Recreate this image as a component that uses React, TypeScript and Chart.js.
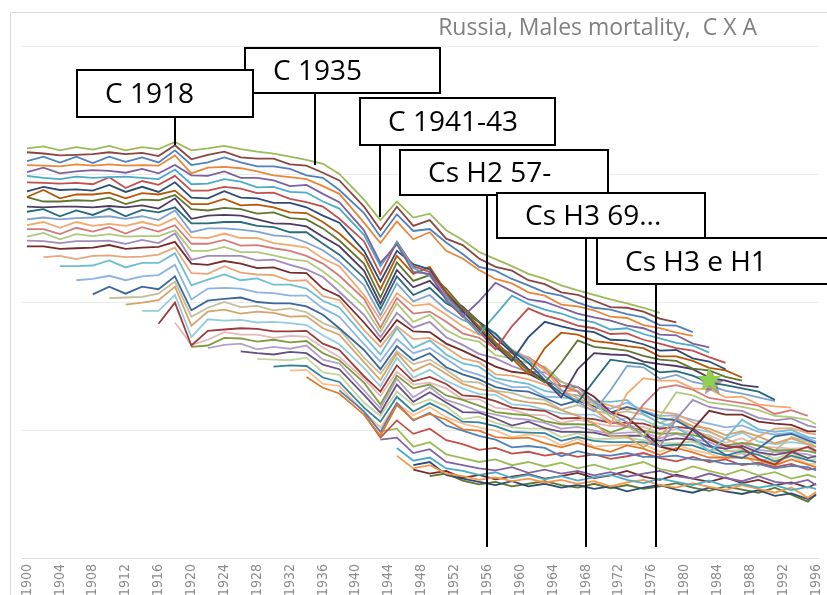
import React, { useEffect, useRef } from 'react';
import { Chart, registerables } from 'chart.js';

Chart.register(...registerables);

// Cohort years (x) on which the series are sampled
const YEARS = [1900,1902,1904,1906,1908,1910,1912,1914,1916,1918,1920,1922,1924,1926,1928,1930,1932,1934,1936,1938,1941,1943,1945,1947,1949,1951,1953,1955,1957,1959,1961,1963,1965,1967,1969,1971,1973,1975,1977,1979,1981,1983,1985,1987,1989,1991,1993,1995,1996];
const TICK_YEARS = [1900,1904,1908,1912,1916,1920,1924,1928,1932,1936,1940,1944,1948,1952,1956,1960,1964,1968,1972,1976,1980,1984,1988,1992,1996];

// log mortality x100 (upper age lines)
const T00 = [-160,-157,-163,-158,-162,-156,-163,-158,-161,-150,-163,-160,-156,-161,-165,-168,-173,-178,-184,-200,-240,-272,-243,-268,-262,-288,-303,-322,-333,-344,-356,-364,-374,-382,-389,-396,-402,-409,-417];
const T01 = [-166,-168,-171,-170,-169,-166,-169,-167,-172,-155,-177,-170,-165,-174,-176,-176,-185,-187,-198,-210,-251,-287,-251,-281,-272,-301,-311,-332,-345,-351,-366,-372,-385,-389,-398,-408,-409,-415,-426,-432];
const T02 = [-180,-173,-182,-173,-183,-173,-181,-174,-182,-163,-186,-182,-174,-182,-188,-188,-192,-202,-206,-225,-261,-298,-263,-289,-286,-307,-325,-345,-351,-364,-374,-385,-390,-401,-409,-412,-419,-424,-436,-437,-447];
const T03 = [-186,-187,-188,-185,-187,-185,-187,-186,-187,-171,-199,-190,-189,-191,-196,-202,-205,-208,-219,-231,-276,-308,-274,-302,-291,-320,-332,-350,-364,-371,-385,-390,-404,-407,-413,-423,-425,-436,-441,-448,-453];
const T04 = [-197,-190,-199,-196,-194,-195,-198,-192,-199,-186,-202,-203,-196,-206,-206,-210,-219,-217,-231,-244,-288,-339,-310,-353,-356,-397,-423,-399,-370,-383,-396,-400,-409,-418,-424,-429,-437,-441,-451,-452,-465,-471];
const T05 = [-203,-206,-208,-204,-206,-205,-204,-206,-208,-193,-216,-215,-208,-212,-221,-220,-228,-229,-243,-254,-295,-344,-307,-347,-359,-392,-422,-450,-420,-390,-403,-412,-418,-427,-432,-443,-441,-450,-457,-464,-468,-479];
const T06 = [-213,-214,-215,-214,-216,-205,-222,-211,-217,-203,-226,-226,-220,-223,-230,-229,-239,-244,-251,-270,-305,-357,-306,-344,-353,-388,-420,-446,-474,-438,-410,-421,-428,-437,-441,-450,-449,-459,-465,-472,-476,-486,-495];
const T07 = [-227,-220,-225,-224,-226,-217,-228,-220,-228,-213,-237,-238,-227,-237,-238,-245,-245,-252,-265,-276,-320,-368,-320,-341,-349,-387,-414,-442,-469,-492,-455,-431,-438,-444,-447,-459,-460,-466,-476,-475,-488,-493,-505];
const T08 = [-236,-225,-238,-232,-232,-229,-238,-230,-232,-226,-247,-247,-239,-249,-248,-252,-260,-261,-275,-293,-328,-380,-328,-356,-345,-384,-412,-438,-466,-488,-513,-472,-448,-451,-461,-464,-469,-472,-485,-485,-492,-503,-507,-518];
const T09 = [-236,-243,-243,-241,-242,-237,-247,-240,-241,-233,-255,-257,-253,-255,-262,-260,-269,-271,-285,-304,-340,-393,-338,-367,-358,-379,-409,-432,-463,-485,-508,-526,-495,-460,-470,-473,-476,-484,-490,-492,-504,-507,-517,-523];
const T10 = [-251,-252,-251,-251,-252,-250,-252,-249,-254,-238,-270,-265,-264,-265,-271,-277,-278,-282,-298,-313,-351,-403,-350,-377,-367,-394,-407,-431,-456,-479,-505,-523,-549,-505,-480,-482,-483,-493,-497,-500,-505,-518,-523,-530,-533];
const T11 = [-259,-255,-266,-257,-264,-254,-266,-256,-260,-252,-277,-277,-275,-275,-281,-283,-291,-291,-309,-326,-362,-411,-360,-389,-378,-402,-416,-431,-450,-476,-495,-522,-543,-557,-523,-490,-494,-497,-510,-508,-515,-526,-530,-535,-540,-553];
const T12 = [-271,-268,-271,-269,-268,-266,-270,-266,-272,-257,-291,-285,-285,-287,-290,-296,-298,-307,-319,-337,-374,-421,-371,-399,-389,-412,-428,-438,-449,-476,-490,-516,-538,-556,-571,-538,-500,-502,-520,-514,-525,-530,-539,-543,-549,-555];
const T13 = [-280,-275,-284,-275,-281,-278,-281,-275,-281,-269,-299,-300,-293,-300,-300,-308,-311,-315,-332,-344,-389,-428,-386,-406,-403,-420,-438,-451,-456,-474,-488,-507,-537,-550,-567,-591,-543,-519,-523,-523,-535,-536,-549,-548,-560,-563,-565];
const T14 = [-286,-286,-294,-284,-290,-283,-293,-283,-290,-280,-309,-309,-303,-312,-311,-316,-320,-328,-340,-359,-395,-440,-394,-418,-415,-431,-449,-456,-473,-480,-486,-504,-531,-540,-568,-587,-594,-560,-534,-530,-537,-550,-554,-558,-562,-575,-569,-578];
const T15 = [-298,-292,-302,-294,-297,-294,-298,-297,-297,-288,-320,-320,-314,-322,-322,-327,-333,-336,-352,-372,-407,-447,-402,-431,-420,-444,-457,-462,-483,-488,-496,-501,-524,-539,-560,-579,-594,-610,-579,-541,-546,-557,-560,-564,-569,-578,-580,-584,-591];
const T16 = [-304,-305,-308,-305,-305,-304,-309,-303,-308,-293,-334,-328,-328,-328,-335,-334,-342,-349,-361,-384,-420,-455,-417,-440,-431,-455,-467,-481,-488,-500,-509,-510,-525,-533,-556,-574,-588,-610,-626,-583,-553,-564,-568,-570,-581,-585,-582,-593,-596];
const T17 = [-313,-313,-317,-316,-315,-311,-317,-315,-314,-306,-340,-342,-336,-340,-347,-346,-354,-355,-379,-391,-432,-462,-428,-446,-447,-465,-476,-488,-501,-509,-512,-525,-531,-533,-548,-572,-580,-602,-626,-632,-599,-570,-576,-576,-587,-590,-592,-602,-602];

// lines that begin on the lower-left diagonal
const L0 = [-344,-344,-343,-335,-346,-339,-339,-324,-374,-365,-357,-366,-363,-373,-373,-379,-398,-409,-453,-482,-441,-472,-460,-482,-496,-501,-519,-524,-528,-539,-543,-546,-555,-556,-553,-575,-589,-596,-611,-634,-613,-584,-599,-603,-600,-611,-613];
const M0 = [-330,-328,-333,-328,-327,-330,-329,-326,-315,-355,-356,-344,-354,-357,-358,-367,-366,-391,-397,-444,-470,-438,-458,-456,-471,-488,-494,-513,-515,-521,-529,-539,-539,-555,-562,-568,-566,-572,-575,-588,-602,-614,-624,-610,-598,-597,-605,-607];
const M1 = [-366,-364,-359,-366,-360,-358,-342,-396,-379,-378,-379,-385,-386,-390,-390,-410,-423,-466,-493,-458,-480,-472,-489,-506,-514,-524,-533,-533,-548,-549,-552,-558,-567,-557,-570,-578,-577,-584,-590,-596,-593,-603,-607,-604,-613,-618];
const L1 = [-388,-376,-387,-376,-380,-360,-413,-398,-395,-393,-400,-402,-402,-407,-420,-441,-475,-505,-469,-491,-480,-502,-513,-521,-533,-538,-540,-550,-561,-554,-563,-573,-564,-571,-582,-585,-600,-623,-639,-644,-629,-610,-606,-616,-621];
const M2 = [-394,-393,-392,-387,-368,-423,-409,-400,-408,-406,-413,-410,-416,-433,-443,-487,-512,-477,-497,-490,-506,-524,-526,-539,-542,-550,-553,-568,-561,-570,-575,-571,-576,-589,-579,-600,-610,-632,-636,-656,-632,-611,-618,-626];
const L2 = [-404,-401,-397,-376,-437,-415,-412,-418,-415,-417,-423,-422,-441,-451,-494,-522,-480,-508,-496,-512,-528,-536,-540,-552,-557,-559,-569,-578,-590,-610,-610,-627,-610,-582,-594,-598,-608,-602,-610,-621,-613,-622,-627];
const M3 = [-414,-414,-389,-455,-427,-429,-428,-432,-431,-433,-436,-452,-466,-503,-532,-487,-518,-506,-523,-535,-544,-545,-560,-562,-568,-574,-576,-576,-589,-581,-584,-596,-586,-598,-603,-614,-604,-618,-622,-619,-622,-632];
const L3 = [-434,-401,-468,-445,-443,-441,-442,-446,-446,-445,-465,-475,-516,-540,-499,-524,-517,-528,-546,-548,-555,-565,-568,-570,-582,-581,-583,-589,-589,-590,-598,-595,-598,-615,-625,-628,-645,-654,-635,-626,-633];
const M4 = [-432,-467,-459,-447,-451,-451,-456,-453,-454,-471,-486,-520,-547,-509,-529,-526,-535,-552,-552,-565,-568,-576,-577,-589,-584,-589,-594,-594,-595,-605,-598,-605,-608,-620,-613,-626,-627,-629,-628,-636];
const L4 = [-470,-468,-456,-457,-462,-459,-463,-461,-480,-491,-526,-560,-515,-535,-529,-546,-553,-562,-572,-575,-577,-586,-591,-591,-592,-604,-595,-601,-606,-605,-608,-613,-624,-620,-624,-632,-631,-633,-636];
const M5 = [-472,-467,-465,-474,-470,-473,-468,-490,-496,-538,-566,-520,-549,-533,-553,-561,-571,-576,-582,-584,-589,-598,-595,-601,-606,-604,-603,-613,-606,-614,-619,-630,-621,-631,-634,-635,-638,-642];
const L5 = [-477,-480,-482,-478,-480,-498,-505,-545,-573,-529,-556,-541,-557,-572,-573,-582,-593,-587,-597,-603,-603,-604,-610,-609,-609,-617,-613,-615,-626,-629,-625,-635,-639,-634,-644,-641];
const M6 = [-489,-490,-491,-487,-510,-514,-557,-578,-540,-561,-552,-563,-583,-579,-589,-596,-598,-598,-611,-605,-614,-614,-612,-616,-620,-621,-618,-631,-633,-631,-634,-645,-636,-648,-645];
const L6 = [-501,-499,-500,-518,-525,-565,-587,-548,-571,-558,-571,-587,-588,-594,-603,-604,-605,-617,-611,-617,-619,-619,-619,-625,-623,-624,-633,-640,-633,-639,-649,-640,-647,-650];
const M7 = [-507,-506,-528,-531,-572,-596,-558,-577,-564,-580,-590,-596,-601,-611,-607,-611,-624,-614,-626,-624,-623,-622,-634,-623,-631,-637,-645,-636,-645,-651,-641,-653,-653];
const L7 = [-517,-534,-543,-576,-609,-561,-584,-575,-584,-599,-601,-611,-613,-612,-621,-627,-620,-628,-634,-624,-629,-639,-628,-635,-643,-643,-643,-647,-655,-646,-654,-658];
const L8 = [-538,-571,-603,-558,-585,-573,-593,-601,-609,-615,-627,-625,-628,-641,-633,-639,-640,-636,-642,-642,-640,-646,-647,-653,-653,-653,-660,-656,-658,-663];

// young-age lines starting around the war years
const B0 = [-575,-612,-585,-606,-598,-616,-622,-631,-628,-637,-634,-640,-636,-642,-638,-645,-641,-636,-644,-649,-642,-650,-646,-655,-651,-658,-653,-662,-660];
const B1 = [-602,-598,-626,-619,-638,-644,-650,-646,-655,-650,-657,-651,-660,-654,-662,-656,-650,-661,-666,-657,-664,-670,-662,-671,-666,-676,-670,-674];
const B2 = [-615,-612,-636,-630,-650,-655,-660,-663,-658,-667,-662,-668,-664,-671,-666,-673,-668,-664,-672,-676,-668,-675,-680,-672,-681,-684,-678,-686];
const B3 = [-628,-648,-643,-660,-664,-670,-666,-675,-670,-677,-672,-679,-674,-670,-678,-683,-676,-681,-686,-679,-688,-684,-690,-686,-694,-689,-692];
const B4 = [-640,-660,-655,-668,-672,-678,-674,-680,-676,-682,-678,-684,-680,-688,-682,-678,-686,-690,-683,-689,-694,-686,-692,-698,-690,-706,-697];
const B5 = [-655,-650,-670,-676,-681,-686,-680,-688,-684,-690,-686,-692,-688,-696,-690,-686,-693,-698,-690,-696,-700,-694,-703,-699,-708,-702];
const B6 = [-662,-668,-664,-675,-670,-677,-673,-669,-676,-672,-667,-675,-671,-664,-673,-678,-670,-676,-681,-674,-683,-678,-686,-682,-690,-684];
const B7 = [-672,-668,-679,-685,-681,-688,-684,-680,-686,-690,-684,-691,-686,-692,-688,-683,-690,-695,-688,-693,-698,-690,-701,-712,-700];

const SERIES = [T00,T01,T02,T03,T04,T05,T06,T07,T08,T09,T10,T11,T12,T13,T14,T15,T16,T17,L0,L1,L2,L3,L4,L5,L6,L7,L8,B0,B1,B2,B3,B4,B5,B6,B7,M0,M1,M2,M3,M4,M5,M6,M7];
const START_YEARS = [1900,1900,1900,1900,1900,1900,1900,1900,1900,1900,1900,1900,1900,1900,1900,1900,1900,1900,1904,1908,1912,1916,1920,1926,1930,1934,1938,1941,1943,1943,1945,1945,1947,1947,1949,1902,1906,1910,1914,1918,1922,1928,1932];

const COLORS = ['#9BBB59','#8B4543','#4F81BD','#E8883A','#7D60A0','#4BACC6','#C0504D','#2C4D75','#B65708','#5F7530','#4D3B62','#276A7C','#7FA3D0','#F4A86E','#D27C7A','#AFC97A','#A08BBB','#772C2A','#6FBDD1','#3A679C','#D6A36A','#9E3B38','#7E9C40','#664F83','#31859C','#E07B2C','#4F81BD','#C0504D','#9BBB59','#8064A2','#4BACC6','#F79646','#2C4D75','#772C2A','#5F7530','#E6A77A','#8DB3E2','#C4BD97','#93CDDD','#E6B9B8','#B3A2C7','#C3D69B','#FAC090'];

const TITLE = 'Russia, Males mortality,  C X A';
const STAR = { year: 1983, value: -522 };
const NOTES = [
  { text: 'C 1935', year: 1935, x: 245, y: 48, w: 195, h: 45, end: 165 },
  { text: 'C 1918', year: 1918, x: 77, y: 70, w: 176, h: 47, end: 145 },
  { text: 'C 1941-43', year: 1943, x: 360, y: 98, w: 195, h: 47, end: 217 },
  { text: 'Cs H2 57-', year: 1956, x: 400, y: 150, w: 208, h: 45, end: 547 },
  { text: 'Cs H3 69...', year: 1968, x: 497, y: 193, w: 208, h: 45, end: 547 },
  { text: 'Cs H3 e H1', year: 1976.5, x: 597, y: 238, w: 240, h: 46, end: 547 },
];

function starPath(ctx: CanvasRenderingContext2D, cx: number, cy: number, ro: number, ri: number) {
  ctx.beginPath();
  for (let i = 0; i < 10; i++) {
    const r = i % 2 === 0 ? ro : ri;
    const a = -Math.PI / 2 + (i * Math.PI) / 5;
    const px = cx + r * Math.cos(a);
    const py = cy + r * Math.sin(a);
    if (i === 0) ctx.moveTo(px, py); else ctx.lineTo(px, py);
  }
  ctx.closePath();
}

const overlay = {
  id: 'overlay',
  afterDraw(chart: any) {
    const { ctx } = chart;
    const xs = chart.scales.x;
    const ys = chart.scales.y;
    ctx.save();
    ctx.strokeStyle = '#d9d9d9';
    ctx.lineWidth = 1;
    ctx.beginPath();
    ctx.moveTo(10.5, 595);
    ctx.lineTo(10.5, 12.5);
    ctx.lineTo(827, 12.5);
    ctx.stroke();
    ctx.fillStyle = '#808080';
    ctx.font = '23px "Open Sans", sans-serif';
    ctx.textAlign = 'right';
    ctx.textBaseline = 'middle';
    ctx.fillText(TITLE, 757, 28);
    const sx = xs.getPixelForValue(STAR.year);
    const sy = ys.getPixelForValue(STAR.value);
    ctx.fillStyle = 'rgba(90,90,90,0.55)';
    starPath(ctx, sx + 3, sy + 4, 13, 5.5);
    ctx.fill();
    ctx.fillStyle = '#8FD14F';
    starPath(ctx, sx, sy, 13, 5.5);
    ctx.fill();
    ctx.strokeStyle = '#000';
    ctx.lineWidth = 2;
    NOTES.forEach((n) => {
      const px = Math.round(xs.getPixelForValue(n.year));
      ctx.beginPath();
      ctx.moveTo(px, n.y + n.h);
      ctx.lineTo(px, n.end);
      ctx.stroke();
    });
    NOTES.forEach((n) => {
      ctx.fillStyle = '#fff';
      ctx.fillRect(n.x, n.y, n.w, n.h);
      ctx.strokeStyle = '#000';
      ctx.lineWidth = 2;
      ctx.strokeRect(n.x, n.y, n.w, n.h);
      ctx.fillStyle = '#000';
      ctx.font = '28px "Open Sans", sans-serif';
      ctx.textAlign = 'left';
      ctx.textBaseline = 'middle';
      ctx.fillText(n.text, n.x + 28, n.y + n.h / 2 + 2);
    });
    ctx.restore();
  },
};

export default function App() {
  const ref = useRef<HTMLCanvasElement | null>(null);
  useEffect(() => {
    if (!ref.current) return;
    const datasets = SERIES.map((vals, i) => {
      const s = YEARS.indexOf(START_YEARS[i]);
      return {
        data: vals.map((v, j) => ({ x: YEARS[s + j], y: v })),
        borderColor: COLORS[i % COLORS.length],
        borderWidth: 1.8,
        pointRadius: 0,
        fill: false,
        tension: 0,
      };
    });
    const chart = new Chart(ref.current, {
      type: 'line',
      data: { datasets },
      options: {
        animation: false,
        responsive: false,
        devicePixelRatio: 1,
        layout: { padding: { left: 22, right: 9, top: 46, bottom: 0 } },
        plugins: { legend: { display: false }, tooltip: { enabled: false }, title: { display: false } },
        scales: {
          x: {
            type: 'linear',
            min: 1899.39,
            max: 1996.24,
            grid: { display: false, drawTicks: false },
            border: { display: true, color: '#d9d9d9' },
            afterBuildTicks: (axis: any) => {
              axis.ticks = TICK_YEARS.map((v) => ({ value: v }));
            },
            afterFit: (axis: any) => {
              axis.height = 37;
              axis.paddingLeft = 0;
              axis.paddingRight = 0;
            },
            ticks: {
              autoSkip: false,
              minRotation: 90,
              maxRotation: 90,
              padding: 6,
              color: '#8a8a8a',
              font: { family: "'Liberation Sans Narrow', 'DejaVu Sans Condensed', sans-serif", size: 14 },
              callback: (v: any) => String(v),
            },
          },
          y: {
            min: -800,
            max: 0,
            grid: { color: '#ebebeb', drawTicks: false },
            border: { display: false },
            ticks: { display: false, stepSize: 200 },
            afterFit: (axis: any) => {
              axis.width = 0;
              axis.paddingTop = 0;
              axis.paddingBottom = 0;
            },
          },
        },
      },
      plugins: [overlay],
    } as any);
    return () => chart.destroy();
  }, []);
  return (
    <div style={{ position: 'absolute', left: 0, top: 0, width: 827, height: 595, background: '#fff' }}>
      <canvas ref={ref} width={827} height={595} style={{ display: 'block' }} />
    </div>
  );
}
